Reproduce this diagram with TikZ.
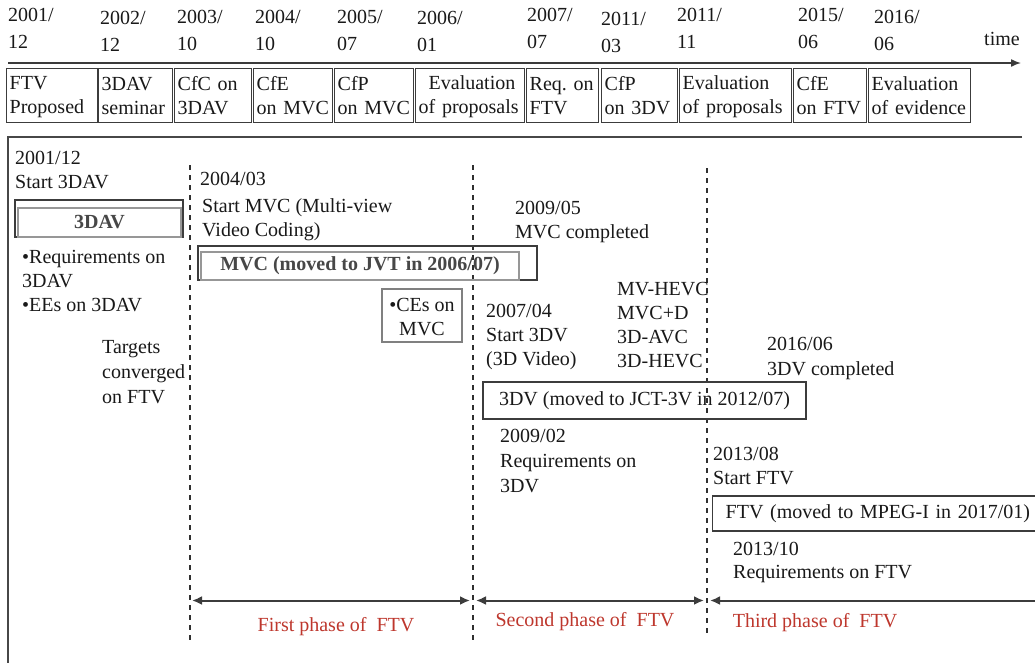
\documentclass[tikz,border=0pt]{standalone}
\usepackage{fontspec}
\setmainfont{Liberation Serif}
\usetikzlibrary{arrows.meta}
\definecolor{phred}{RGB}{190,55,45}
\definecolor{ink}{RGB}{25,25,25}
\newcommand\fsz{\fontsize{20}{24}\selectfont}
\newcommand\dpt{\rule[-4pt]{0pt}{4pt}}
\begin{document}
\begin{tikzpicture}[x=1pt,y=-1pt,
  lab/.style={inner sep=0pt, anchor=north west, align=left, font=\fsz, text=ink},
  tbox/.style={draw=ink!85, line width=1.4pt, inner xsep=3pt, inner ysep=0pt,
    minimum height=54pt, anchor=north west, align=left, font=\fsz, text=ink},
  obox/.style={draw=ink!85, line width=1.3pt},
  ibox/.style={draw=ink!45, line width=1.1pt, inner sep=0pt, font=\fsz\bfseries, text=ink!80},
  pbox/.style={draw=ink!85, line width=1.3pt, inner sep=0pt, font=\fsz, text=ink},
  dashv/.style={draw=ink!90, line width=1.2pt, dash pattern=on 5pt off 5pt},
  phase/.style={draw=ink!85, line width=2pt},
  phtxt/.style={font=\fsz, text=phred, inner sep=0pt, anchor=base}]
\useasboundingbox (0,0) rectangle (1035,662);
\clip (0,0) rectangle (1035,662);
\fill[white] (0,0) rectangle (1035,662);

% ---------- time axis ----------
\coordinate (ax0) at (8,63);
\coordinate (ax1) at (1021,63);
\draw[line width=1.5pt, ink!85, -{Latex[length=10pt,width=8pt]}] (ax0) -- (ax1);
\node[lab] (time) at (984,28.8) {\strut time};

\node[lab] (t1) at (8,4.8)   {\strut 2001/\\[3pt]12};
\node[lab] (t2) at (100,7.8) {\strut 2002/\\[3pt]12};
\node[lab] (t3) at (177,6.8) {\strut 2003/\\[3pt]10};
\node[lab] (t4) at (255,6.8) {\strut 2004/\\[3pt]10};
\node[lab] (t5) at (337,6.8) {\strut 2005/\\[3pt]07};
\node[lab] (t6) at (417,7.8) {\strut 2006/\\[3pt]01};
\node[lab] (t7) at (527,4.8) {\strut 2007/\\[3pt]07};
\node[lab] (t8) at (601,8.8) {\strut 2011/\\[3pt]03};
\node[lab] (t9) at (677,4.8) {\strut 2011/\\[3pt]11};
\node[lab] (t10) at (798,4.8) {\strut 2015/\\[3pt]06};
\node[lab] (t11) at (874,6.8) {\strut 2016/\\[3pt]06};

% ---------- event boxes ----------
\node[tbox, text width=85pt] (b1) at (6,68) {\strut FTV\\Proposed\dpt};
\node[tbox, text width=68pt] (b2) at (98,68) {\strut 3DAV\\seminar\dpt};
\node[tbox, text width=71pt] (b3) at (174,68) {\strut CfC~on\\3DAV\dpt};
\node[tbox, text width=73pt] (b4) at (253,68) {\strut CfE\\on~MVC\dpt};
\node[tbox, text width=73pt] (b5) at (334,68) {\strut CfP\\on~MVC\dpt};
\node[tbox, text width=103pt] (b6) at (415,68) {\strut\hspace*{10pt}Evaluation\\of~proposals\dpt};
\node[tbox, text width=66pt] (b7) at (526,68) {\strut Req.~on\\FTV\dpt};
\node[tbox, text width=70pt] (b8) at (601,68) {\strut CfP\\on~3DV\dpt};
\node[tbox, text width=106pt] (b9) at (679,68) {\strut Evaluation\\of~proposals\dpt};
\node[tbox, text width=67pt] (b10) at (793,68) {\strut CfE\\on~FTV\dpt};
\node[tbox, text width=96pt] (b11) at (868,68) {\strut Evaluation\\of~evidence\dpt};

% ---------- main frame ----------
\coordinate (fr0) at (1022,137);
\coordinate (fr1) at (8,137);
\coordinate (fr2) at (8,670);
\draw[line width=1.3pt, ink!80] (fr0) -- (fr1) -- (fr2);

% ---------- dashed phase separators ----------
\coordinate (d1t) at (190,165); \coordinate (d1b) at (190,640);
\coordinate (d2t) at (473,165); \coordinate (d2b) at (473,640);
\coordinate (d3t) at (707,168); \coordinate (d3b) at (707,636);
\draw[dashv] (d1t) -- (d1b);
\draw[dashv] (d2t) -- (d2b);
\draw[dashv] (d3t) -- (d3b);

% ---------- 3DAV ----------
\node[lab] (s3dav) at (15,147.8) {\strut 2001/12\\Start 3DAV};
\draw[obox] (15,200) rectangle (183,237);
\node[ibox, minimum width=163pt, minimum height=29pt] (dav) at (99.5,222.5) {3DAV};
\node[lab] (req3dav) at (22,246.8) {\strut •Requirements on\\3DAV\\•EEs on 3DAV};
\node[lab] (targ) at (102,336.8) {\strut Targets\\[1pt]converged\\[1pt]on FTV};

% ---------- MVC ----------
\node[lab] (d0403) at (200,168.8) {\strut 2004/03};
\node[lab] (smvc) at (202,195.8) {\strut Start MVC (Multi-view\\Video Coding)};
\draw[obox] (198,246) rectangle (537,280);
\node[ibox, minimum width=318pt, minimum height=28pt] (mvc) at (360,266) {MVC (moved to JVT in 2006/07)};
\node[pbox, draw=ink!55, minimum width=80pt, minimum height=53pt, align=center] (ces) at (422,315.5) {\strut •CEs on\\MVC};
\node[lab] (mvcdone) at (515,197.8) {\strut 2009/05\\MVC completed};

% ---------- 3DV ----------
\node[lab] (s3dv) at (486,300.8) {\strut 2007/04\\Start 3DV\\(3D Video)};
\node[lab] (hevc) at (617,278.8) {\strut MV-HEVC\\MVC+D\\3D-AVC\\3D-HEVC};
\node[lab] (dvdone) at (767,333.8) {\strut 2016/06\\[1pt]3DV completed};
\node[pbox, minimum width=323pt, minimum height=37pt] (dv) at (644.5,400.5) {3DV (moved to JCT-3V in 2012/07)};
\node[lab] (req3dv) at (500,425.8) {\strut 2009/02\\[1pt]Requirements on\\[1pt]3DV};

% ---------- FTV ----------
\node[lab] (sftv) at (713,443.8) {\strut 2013/08\\Start FTV};
\node[pbox, anchor=west, inner xsep=13pt, text width=320pt, align=left, minimum height=35pt] (ftv) at (712,513.5) {FTV (moved to MPEG-I in 2017/01)};
\node[lab] (reqftv) at (733,538) {\strut 2013/10\\[-0.5pt]Requirements on FTV};

% ---------- phases ----------
\coordinate (p1l) at (192,600.5); \coordinate (p1r) at (470,600.5);
\coordinate (p2l) at (476,600.5); \coordinate (p2r) at (704,600.5);
\coordinate (p3l) at (710,600.5); \coordinate (p3r) at (1040,600.5);
\draw[phase, {Latex[length=10pt,width=9pt]}-{Latex[length=10pt,width=9pt]}] (p1l) -- (p1r);
\draw[phase, {Latex[length=10pt,width=9pt]}-{Latex[length=10pt,width=9pt]}] (p2l) -- (p2r);
\draw[phase, {Latex[length=10pt,width=9pt]}-] (p3l) -- (p3r);
\node[phtxt] (ph1) at (336,631.6) {First phase of\ \ FTV};
\node[phtxt] (ph2) at (585,626.6) {Second phase of\ \ FTV};
\node[phtxt] (ph3) at (815,627.6) {Third phase of\ \ FTV};
\end{tikzpicture}
\end{document}
